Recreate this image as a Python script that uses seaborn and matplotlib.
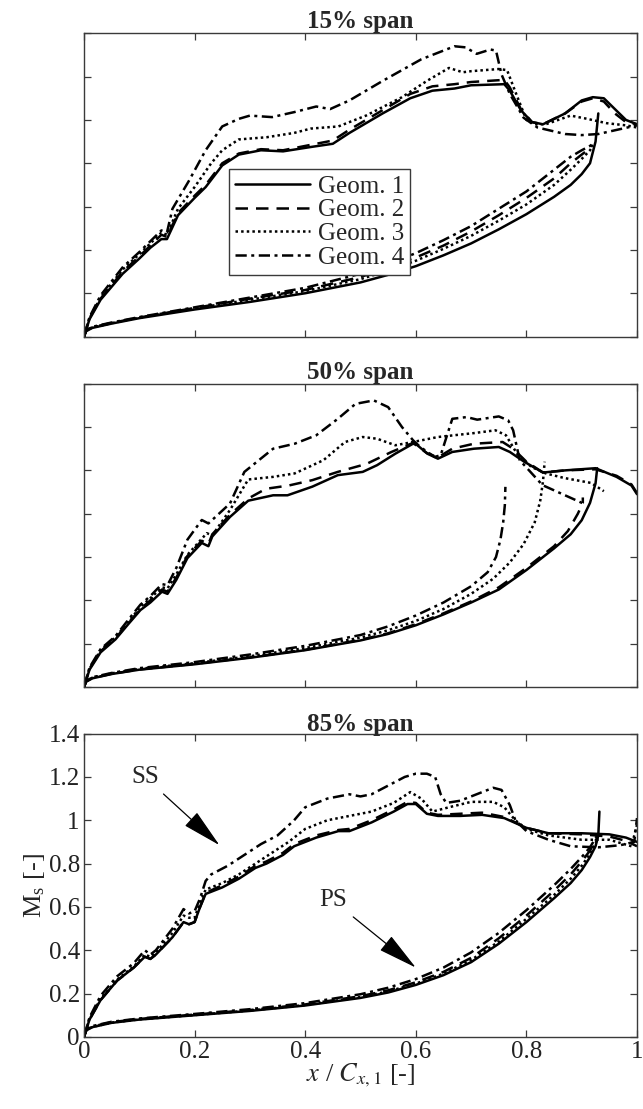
import matplotlib
matplotlib.use("Agg")
import matplotlib.pyplot as plt
import seaborn as sns

# ---------------- data ----------------
geoms = ["Geom. 1", "Geom. 2", "Geom. 3", "Geom. 4"]
titles = ["15% span", "50% span", "85% span"]

# ---- 15% span, suction side ----
ss15_x_g1 = [0, 0.01, 0.03, 0.07, 0.10, 0.12, 0.14, 0.15, 0.17, 0.20, 0.22, 0.25, 0.28, 0.32, 0.36, 0.41, 0.45, 0.48, 0.54, 0.59, 0.63, 0.67, 0.70, 0.76, 0.77, 0.79, 0.81, 0.83, 0.87, 0.90, 0.92, 0.94, 0.96, 0.98, 1.0]
ss15_y_g1 = [0, 0.08, 0.17, 0.29, 0.36, 0.41, 0.45, 0.45, 0.56, 0.64, 0.69, 0.79, 0.84, 0.86, 0.855, 0.875, 0.89, 0.94, 1.03, 1.10, 1.135, 1.145, 1.16, 1.165, 1.135, 1.045, 0.99, 0.98, 1.03, 1.09, 1.105, 1.1, 1.05, 1.0, 0.98]
ss15_x_g2 = [0, 0.01, 0.03, 0.07, 0.10, 0.12, 0.14, 0.15, 0.17, 0.20, 0.22, 0.25, 0.28, 0.32, 0.36, 0.41, 0.45, 0.48, 0.54, 0.59, 0.63, 0.67, 0.70, 0.76, 0.77, 0.79, 0.81, 0.83, 0.87, 0.90, 0.92, 0.94, 0.96, 0.98, 1.0]
ss15_y_g2 = [0, 0.085, 0.175, 0.30, 0.37, 0.42, 0.47, 0.46, 0.57, 0.65, 0.70, 0.80, 0.845, 0.865, 0.86, 0.885, 0.905, 0.955, 1.045, 1.12, 1.155, 1.165, 1.175, 1.185, 1.15, 1.05, 0.99, 0.98, 1.03, 1.085, 1.10, 1.085, 1.03, 0.99, 0.98]
ss15_x_g3 = [0, 0.01, 0.03, 0.07, 0.10, 0.12, 0.14, 0.15, 0.17, 0.20, 0.23, 0.25, 0.28, 0.33, 0.38, 0.41, 0.46, 0.51, 0.575, 0.62, 0.66, 0.685, 0.70, 0.75, 0.765, 0.78, 0.80, 0.815, 0.835, 0.88, 0.91, 0.945, 0.98, 1.0]
ss15_y_g3 = [0, 0.085, 0.18, 0.31, 0.38, 0.43, 0.48, 0.47, 0.59, 0.69, 0.80, 0.86, 0.91, 0.92, 0.94, 0.96, 0.97, 1.02, 1.105, 1.18, 1.24, 1.22, 1.225, 1.235, 1.23, 1.13, 1.0, 0.98, 0.98, 1.02, 1.005, 0.985, 0.975, 0.965]
ss15_x_g4 = [0, 0.01, 0.03, 0.07, 0.10, 0.12, 0.14, 0.15, 0.16, 0.19, 0.22, 0.25, 0.28, 0.30, 0.34, 0.38, 0.42, 0.445, 0.48, 0.54, 0.61, 0.67, 0.69, 0.71, 0.735, 0.745, 0.755, 0.77, 0.795, 0.82, 0.87, 0.90, 0.93, 0.965, 1.0]
ss15_y_g4 = [0, 0.09, 0.19, 0.32, 0.39, 0.44, 0.49, 0.48, 0.59, 0.72, 0.86, 0.97, 1.005, 1.02, 1.013, 1.036, 1.062, 1.05, 1.09, 1.18, 1.28, 1.34, 1.335, 1.305, 1.325, 1.32, 1.21, 1.12, 1.01, 0.965, 0.935, 0.93, 0.935, 0.955, 0.975]

# ---- 15% span, pressure side ----
ps15_x_g1 = [0, 0.004, 0.015, 0.05, 0.1, 0.2, 0.3, 0.4, 0.5, 0.55, 0.6, 0.65, 0.7, 0.75, 0.8, 0.85, 0.88, 0.9, 0.915, 0.925, 0.93]
ps15_y_g1 = [0, 0.025, 0.04, 0.06, 0.085, 0.125, 0.16, 0.2, 0.25, 0.285, 0.325, 0.375, 0.43, 0.495, 0.565, 0.645, 0.70, 0.75, 0.80, 0.90, 1.03]
ps15_x_g2 = [0, 0.004, 0.015, 0.05, 0.1, 0.2, 0.3, 0.4, 0.5, 0.55, 0.6, 0.65, 0.7, 0.75, 0.8, 0.85, 0.88, 0.9, 0.915, 0.92]
ps15_y_g2 = [0, 0.029, 0.043, 0.063, 0.088, 0.132, 0.175, 0.215, 0.275, 0.318, 0.365, 0.42, 0.485, 0.56, 0.64, 0.73, 0.80, 0.84, 0.87, 0.885]
ps15_x_g3 = [0, 0.004, 0.015, 0.05, 0.1, 0.2, 0.3, 0.4, 0.5, 0.55, 0.6, 0.65, 0.7, 0.75, 0.8, 0.85, 0.88, 0.9, 0.915, 0.92]
ps15_y_g3 = [0, 0.028, 0.042, 0.062, 0.087, 0.13, 0.17, 0.21, 0.265, 0.305, 0.35, 0.405, 0.465, 0.535, 0.61, 0.70, 0.77, 0.82, 0.86, 0.88]
ps15_x_g4 = [0, 0.004, 0.015, 0.05, 0.1, 0.2, 0.3, 0.4, 0.5, 0.55, 0.6, 0.65, 0.7, 0.75, 0.8, 0.85, 0.88, 0.9, 0.915, 0.92]
ps15_y_g4 = [0, 0.03, 0.045, 0.065, 0.09, 0.135, 0.18, 0.225, 0.29, 0.335, 0.385, 0.445, 0.51, 0.59, 0.67, 0.77, 0.83, 0.86, 0.88, 0.89]

# ---- 50% span, suction side ----
ss50_x_g1 = [0, 0.01, 0.03, 0.057, 0.08, 0.102, 0.12, 0.141, 0.151, 0.167, 0.187, 0.213, 0.225, 0.232, 0.264, 0.297, 0.342, 0.368, 0.413, 0.459, 0.504, 0.53, 0.563, 0.595, 0.601, 0.621, 0.64, 0.666, 0.705, 0.75, 0.77, 0.796, 0.83, 0.87, 0.925, 0.963, 0.99, 1.0]
ss50_y_g1 = [0, 0.08, 0.16, 0.22, 0.29, 0.355, 0.39, 0.44, 0.43, 0.495, 0.595, 0.665, 0.65, 0.695, 0.785, 0.86, 0.885, 0.885, 0.925, 0.978, 0.993, 1.024, 1.077, 1.123, 1.12, 1.077, 1.054, 1.085, 1.1, 1.108, 1.085, 1.04, 0.99, 1.0, 1.01, 0.97, 0.93, 0.89]
ss50_x_g2 = [0, 0.01, 0.03, 0.057, 0.08, 0.102, 0.12, 0.141, 0.151, 0.167, 0.187, 0.213, 0.225, 0.232, 0.264, 0.297, 0.329, 0.37, 0.413, 0.459, 0.511, 0.556, 0.595, 0.62, 0.64, 0.666, 0.705, 0.757, 0.776, 0.8, 0.83, 0.87, 0.925, 0.963, 0.99, 1.0]
ss50_y_g2 = [0, 0.085, 0.165, 0.225, 0.295, 0.36, 0.4, 0.45, 0.44, 0.505, 0.605, 0.675, 0.66, 0.705, 0.795, 0.87, 0.915, 0.93, 0.955, 0.993, 1.03, 1.085, 1.127, 1.08, 1.06, 1.1, 1.123, 1.131, 1.1, 1.04, 0.99, 1.0, 1.005, 0.975, 0.935, 0.895]
ss50_x_g3 = [0, 0.01, 0.03, 0.057, 0.08, 0.102, 0.12, 0.141, 0.151, 0.167, 0.187, 0.222, 0.232, 0.264, 0.297, 0.342, 0.381, 0.433, 0.472, 0.504, 0.53, 0.563, 0.595, 0.64, 0.705, 0.744, 0.763, 0.783, 0.809, 0.835, 0.868, 0.917, 0.94]
ss50_y_g3 = [0, 0.085, 0.17, 0.23, 0.3, 0.37, 0.41, 0.46, 0.455, 0.52, 0.61, 0.71, 0.7, 0.817, 0.958, 0.97, 0.986, 1.047, 1.131, 1.154, 1.146, 1.116, 1.131, 1.154, 1.172, 1.185, 1.162, 1.077, 1.016, 0.986, 0.965, 0.942, 0.904]
ss50_x_g4 = [0, 0.01, 0.03, 0.057, 0.08, 0.102, 0.12, 0.141, 0.151, 0.167, 0.187, 0.213, 0.225, 0.264, 0.29, 0.342, 0.381, 0.42, 0.459, 0.491, 0.524, 0.55, 0.575, 0.595, 0.608, 0.634, 0.645, 0.666, 0.692, 0.711, 0.75, 0.767, 0.776, 0.788, 0.829, 0.902]
ss50_y_g4 = [0, 0.09, 0.175, 0.235, 0.31, 0.38, 0.42, 0.475, 0.47, 0.55, 0.68, 0.771, 0.755, 0.847, 0.993, 1.1, 1.123, 1.162, 1.238, 1.307, 1.323, 1.292, 1.2, 1.139, 1.108, 1.062, 1.07, 1.238, 1.246, 1.234, 1.249, 1.231, 1.185, 1.047, 0.932, 0.848]

# ---- 50% span, pressure side ----
ps50_x_g1 = [0, 0.004, 0.015, 0.05, 0.1, 0.2, 0.3, 0.4, 0.5, 0.55, 0.6, 0.65, 0.7, 0.75, 0.8, 0.85, 0.88, 0.9, 0.915, 0.925, 0.928]
ps50_y_g1 = [0, 0.025, 0.04, 0.06, 0.08, 0.105, 0.135, 0.17, 0.215, 0.245, 0.285, 0.335, 0.39, 0.45, 0.54, 0.64, 0.705, 0.77, 0.85, 0.94, 1.01]
ps50_x_g2 = [0, 0.004, 0.015, 0.05, 0.1, 0.2, 0.3, 0.4, 0.5, 0.55, 0.6, 0.65, 0.7, 0.75, 0.8, 0.85, 0.875, 0.893, 0.902, 0.902]
ps50_y_g2 = [0, 0.026, 0.041, 0.061, 0.081, 0.107, 0.137, 0.172, 0.218, 0.248, 0.29, 0.34, 0.395, 0.46, 0.55, 0.65, 0.72, 0.8, 0.85, 0.875]
ps50_x_g3 = [0, 0.004, 0.015, 0.05, 0.1, 0.2, 0.3, 0.4, 0.5, 0.55, 0.6, 0.65, 0.7, 0.74, 0.77, 0.795, 0.815, 0.825, 0.83, 0.833]
ps50_y_g3 = [0, 0.027, 0.043, 0.063, 0.084, 0.11, 0.142, 0.18, 0.228, 0.262, 0.305, 0.36, 0.43, 0.5, 0.575, 0.66, 0.76, 0.86, 0.95, 1.04]
ps50_x_g4 = [0, 0.004, 0.015, 0.05, 0.1, 0.2, 0.3, 0.4, 0.5, 0.55, 0.6, 0.65, 0.7, 0.73, 0.745, 0.753, 0.758, 0.761, 0.762]
ps50_y_g4 = [0, 0.028, 0.045, 0.065, 0.087, 0.115, 0.15, 0.19, 0.24, 0.28, 0.33, 0.39, 0.465, 0.53, 0.6, 0.68, 0.76, 0.84, 0.924]

# ---- 85% span, suction side ----
ss85_x_g1 = [0, 0.01, 0.03, 0.06, 0.09, 0.11, 0.12, 0.13, 0.16, 0.18, 0.19, 0.20, 0.21, 0.22, 0.25, 0.28, 0.31, 0.33, 0.36, 0.38, 0.42, 0.46, 0.48, 0.52, 0.56, 0.585, 0.60, 0.62, 0.64, 0.68, 0.72, 0.76, 0.80, 0.84, 0.90, 0.95, 0.98, 1.0]
ss85_y_g1 = [0, 0.08, 0.17, 0.26, 0.32, 0.37, 0.36, 0.38, 0.46, 0.53, 0.52, 0.53, 0.60, 0.66, 0.69, 0.73, 0.78, 0.80, 0.84, 0.88, 0.92, 0.95, 0.95, 0.99, 1.04, 1.075, 1.075, 1.03, 1.02, 1.02, 1.025, 1.01, 0.965, 0.94, 0.94, 0.935, 0.92, 0.90]
ss85_x_g2 = [0, 0.01, 0.03, 0.06, 0.09, 0.11, 0.12, 0.13, 0.16, 0.18, 0.19, 0.20, 0.21, 0.22, 0.25, 0.28, 0.31, 0.33, 0.36, 0.38, 0.42, 0.46, 0.48, 0.52, 0.56, 0.585, 0.60, 0.62, 0.64, 0.68, 0.72, 0.76, 0.80, 0.84, 0.90, 0.95, 0.98, 1.0]
ss85_y_g2 = [0, 0.08, 0.17, 0.26, 0.32, 0.37, 0.36, 0.38, 0.46, 0.53, 0.52, 0.53, 0.60, 0.665, 0.70, 0.74, 0.79, 0.81, 0.85, 0.89, 0.93, 0.955, 0.96, 1.0, 1.05, 1.085, 1.08, 1.035, 1.025, 1.03, 1.035, 1.015, 0.965, 0.94, 0.935, 0.925, 0.905, 0.88]
ss85_x_g3 = [0, 0.01, 0.03, 0.06, 0.09, 0.11, 0.12, 0.13, 0.16, 0.18, 0.19, 0.20, 0.21, 0.22, 0.25, 0.28, 0.31, 0.34, 0.37, 0.40, 0.44, 0.48, 0.52, 0.56, 0.59, 0.61, 0.63, 0.66, 0.70, 0.74, 0.76, 0.78, 0.80, 0.84, 0.90, 0.95, 0.99, 1.0]
ss85_y_g3 = [0, 0.085, 0.175, 0.265, 0.325, 0.38, 0.37, 0.39, 0.48, 0.56, 0.55, 0.55, 0.62, 0.68, 0.71, 0.75, 0.80, 0.85, 0.90, 0.96, 1.0, 1.02, 1.04, 1.08, 1.13, 1.10, 1.04, 1.06, 1.085, 1.085, 1.06, 1.0, 0.96, 0.93, 0.91, 0.91, 0.88, 0.98]
ss85_x_g4 = [0, 0.01, 0.03, 0.06, 0.09, 0.11, 0.12, 0.13, 0.16, 0.18, 0.19, 0.20, 0.21, 0.22, 0.23, 0.26, 0.29, 0.32, 0.35, 0.38, 0.40, 0.44, 0.48, 0.50, 0.52, 0.55, 0.58, 0.60, 0.62, 0.635, 0.645, 0.655, 0.68, 0.71, 0.74, 0.755, 0.77, 0.78, 0.80, 0.84, 0.88, 0.93, 0.97, 0.995, 1.0]
ss85_y_g4 = [0, 0.09, 0.19, 0.28, 0.34, 0.40, 0.38, 0.40, 0.50, 0.59, 0.57, 0.58, 0.64, 0.72, 0.75, 0.79, 0.84, 0.89, 0.93, 1.0, 1.06, 1.10, 1.12, 1.11, 1.12, 1.16, 1.20, 1.215, 1.215, 1.20, 1.12, 1.08, 1.09, 1.12, 1.15, 1.14, 1.07, 1.0, 0.95, 0.91, 0.88, 0.875, 0.885, 0.90, 1.01]

# ---- 85% span, pressure side ----
ps85_x_g1 = [0, 0.004, 0.015, 0.05, 0.1, 0.2, 0.3, 0.4, 0.5, 0.55, 0.6, 0.65, 0.7, 0.75, 0.8, 0.85, 0.88, 0.9, 0.915, 0.925, 0.93, 0.932]
ps85_y_g1 = [0, 0.03, 0.045, 0.065, 0.08, 0.1, 0.12, 0.145, 0.18, 0.205, 0.24, 0.285, 0.345, 0.43, 0.53, 0.64, 0.71, 0.77, 0.83, 0.88, 0.93, 1.04]
ps85_x_g2 = [0, 0.004, 0.015, 0.05, 0.1, 0.2, 0.3, 0.4, 0.5, 0.55, 0.6, 0.65, 0.7, 0.75, 0.8, 0.85, 0.88, 0.9, 0.915, 0.928]
ps85_y_g2 = [0, 0.032, 0.048, 0.068, 0.083, 0.103, 0.124, 0.15, 0.188, 0.215, 0.252, 0.3, 0.365, 0.455, 0.56, 0.675, 0.75, 0.81, 0.86, 0.92]
ps85_x_g3 = [0, 0.004, 0.015, 0.05, 0.1, 0.2, 0.3, 0.4, 0.5, 0.55, 0.6, 0.65, 0.7, 0.75, 0.8, 0.85, 0.88, 0.9, 0.915, 0.928]
ps85_y_g3 = [0, 0.03, 0.046, 0.066, 0.081, 0.101, 0.122, 0.147, 0.184, 0.21, 0.246, 0.292, 0.355, 0.44, 0.545, 0.655, 0.73, 0.79, 0.845, 0.91]
ps85_x_g4 = [0, 0.004, 0.015, 0.05, 0.1, 0.2, 0.3, 0.4, 0.5, 0.55, 0.6, 0.65, 0.7, 0.75, 0.8, 0.85, 0.88, 0.9, 0.915, 0.928]
ps85_y_g4 = [0, 0.033, 0.05, 0.07, 0.085, 0.106, 0.128, 0.156, 0.197, 0.227, 0.267, 0.32, 0.39, 0.48, 0.585, 0.70, 0.775, 0.83, 0.875, 0.93]

x_ticks = [0, 0.2, 0.4, 0.6, 0.8, 1.0]
x_ticklabels = ["0", "0.2", "0.4", "0.6", "0.8", "1"]
y_ticks = [0, 0.2, 0.4, 0.6, 0.8, 1.0, 1.2, 1.4]
y_ticklabels = ["0", "0.2", "0.4", "0.6", "0.8", "1", "1.2", "1.4"]

# ---------------- style ----------------
sns.set_style("ticks")
plt.rcParams["font.family"] = ["Liberation Serif", "DejaVu Serif"]
plt.rcParams["mathtext.fontset"] = "stix"
plt.rcParams["axes.edgecolor"] = "#3a3a3a"
plt.rcParams["axes.linewidth"] = 1.0

styles = [
    "-",
    (0, (5.0, 3.2)),
    (0, (1.0, 1.25)),
    (0, (4.5, 1.8, 1.2, 1.8)),
]
LW = 1.8

panels = [
    ([(ss15_x_g1, ss15_y_g1), (ss15_x_g2, ss15_y_g2), (ss15_x_g3, ss15_y_g3), (ss15_x_g4, ss15_y_g4)],
     [(ps15_x_g1, ps15_y_g1), (ps15_x_g2, ps15_y_g2), (ps15_x_g3, ps15_y_g3), (ps15_x_g4, ps15_y_g4)]),
    ([(ss50_x_g1, ss50_y_g1), (ss50_x_g2, ss50_y_g2), (ss50_x_g3, ss50_y_g3), (ss50_x_g4, ss50_y_g4)],
     [(ps50_x_g1, ps50_y_g1), (ps50_x_g2, ps50_y_g2), (ps50_x_g3, ps50_y_g3), (ps50_x_g4, ps50_y_g4)]),
    ([(ss85_x_g1, ss85_y_g1), (ss85_x_g2, ss85_y_g2), (ss85_x_g3, ss85_y_g3), (ss85_x_g4, ss85_y_g4)],
     [(ps85_x_g1, ps85_y_g1), (ps85_x_g2, ps85_y_g2), (ps85_x_g3, ps85_y_g3), (ps85_x_g4, ps85_y_g4)]),
]

fig = plt.figure(figsize=(6.43, 11.09), dpi=100)
left, width, height = 0.1306, 0.8601, 0.2735
bottoms = [0.6965, 0.3805, 0.0650]

FS = 18
for i, (ss_list, ps_list) in enumerate(panels):
    ax = fig.add_axes([left, bottoms[i], width, height])
    for g in range(4):
        sx, sy = ss_list[g]
        px, py = ps_list[g]
        sns.lineplot(x=sx, y=sy, ax=ax, sort=False, estimator=None, color="black",
                     linewidth=LW, linestyle=styles[g], label=geoms[g] if i == 0 else None)
        sns.lineplot(x=px, y=py, ax=ax, sort=False, estimator=None, color="black",
                     linewidth=LW, linestyle=styles[g])
    ax.set_xlim(0, 1)
    ax.set_ylim(0, 1.4)
    ax.set_xticks(x_ticks)
    ax.set_yticks(y_ticks)
    ax.tick_params(direction="in", length=5, width=0.9, top=True, right=True,
                   labelsize=FS, colors="#3a3a3a", labelcolor="#222222", pad=3)
    ax.set_title(titles[i], fontsize=FS, fontweight="bold", pad=2)
    ax.set_xlabel("")
    ax.set_ylabel("")
    if i < 2:
        ax.set_xticklabels([])
        ax.set_yticklabels([])
    else:
        ax.set_xticklabels(x_ticklabels)
        ax.set_yticklabels(y_ticklabels)
        ax.set_xlabel(r"$x$ / $C_{x,1}$ [-]", fontsize=FS + 1, labelpad=-1)
        ax.set_ylabel(r"M$_\mathregular{s}$ [-]", fontsize=FS + 1, labelpad=1)
        arrow = dict(arrowstyle="-|>,head_length=1.4,head_width=0.32", color="black",
                     lw=0.9, shrinkA=3, shrinkB=0)
        ax.annotate("SS", xy=(0.245, 0.885), xytext=(0.11, 1.2), fontsize=FS,
                    ha="center", va="center", arrowprops=arrow)
        ax.annotate("PS", xy=(0.6, 0.32), xytext=(0.45, 0.63), fontsize=FS,
                    ha="center", va="center", arrowprops=arrow)
    leg = ax.get_legend()
    if i == 0:
        leg = ax.legend(loc="upper left", bbox_to_anchor=(0.262, 0.553), fontsize=FS,
                        frameon=True, fancybox=False, framealpha=1, edgecolor="#3a3a3a",
                        handlelength=3.0, handletextpad=0.3, borderpad=0.25,
                        labelspacing=0.05, borderaxespad=0)
        leg.get_frame().set_linewidth(1.0)
    elif leg is not None:
        leg.remove()
    for s in ax.spines.values():
        s.set_visible(True)

fig.savefig("out.png", dpi=100)
